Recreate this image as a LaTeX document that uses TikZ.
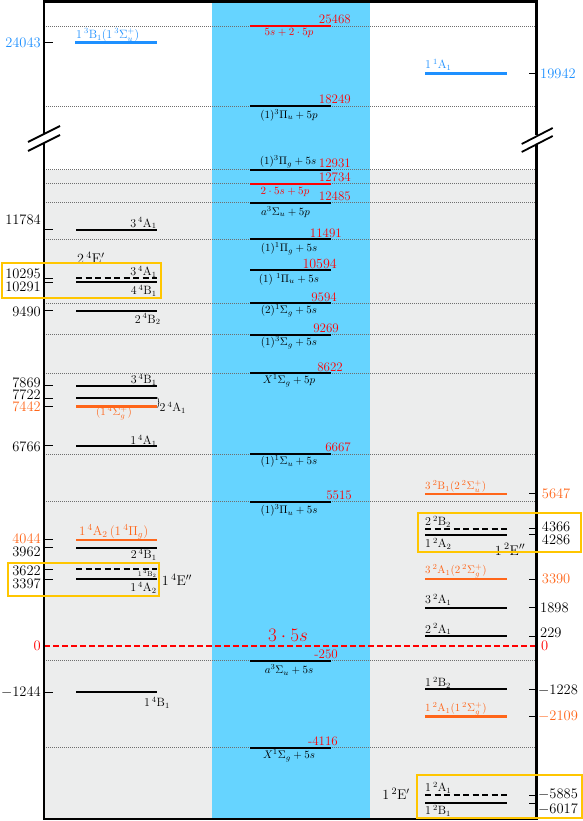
\RequirePackage{fix-cm}
\documentclass[tikz,border=0pt]{standalone}
\usepackage{amsmath}
\usetikzlibrary{decorations.pathreplacing}
\definecolor{bandblue}{RGB}{102,212,255}
\definecolor{lightgrey}{RGB}{236,237,237}
\definecolor{stblue}{RGB}{30,144,255}
\definecolor{storange}{RGB}{255,102,26}
\definecolor{boxyellow}{RGB}{255,198,0}
\definecolor{guidegrey}{RGB}{110,110,110}

\begin{document}
\begin{tikzpicture}[x=1pt, y=-1pt,
    lvl/.style={line width=2pt},
    dlvl/.style={line width=2pt, dash pattern=on 6pt off 3.5pt},
    guide/.style={guidegrey, line width=0.6pt, dash pattern=on 1pt off 1pt},
    tick/.style={line width=0.8pt},
    num/.style={font=\fontsize{14.5}{16}\selectfont, inner sep=0pt},
    cnum/.style={font=\fontsize{13}{14}\selectfont, text=red, inner sep=0pt, anchor=base east},
    clbl/.style={font=\fontsize{11}{12}\selectfont, inner sep=0pt},
    slbl/.style={font=\fontsize{12}{13}\selectfont, inner sep=0pt},
    plbl/.style={font=\fontsize{11}{12}\selectfont, inner sep=0pt, text=storange},
    elbl/.style={font=\fontsize{14}{15}\selectfont, inner sep=0pt},
    ebox/.style={draw=boxyellow, line width=1.8pt},
    frame/.style={line width=2.4pt}
]
\useasboundingbox (0,0) rectangle (582,821);

% backgrounds
\fill[lightgrey] (44,169.7) rectangle (536.3,819);
\fill[bandblue] (211.6,1.5) rectangle (370,819);

% dotted guides at the dimer + atom levels
\foreach \yy in {26,106,169.7,183.7,202.7,239.3,303,334.7,373,454,501.7,660.7,747.7}
  \draw[guide] (44,\yy) -- (536.3,\yy);

% zero line
\draw[red, line width=1.3pt, dash pattern=on 6pt off 3pt] (44,646) -- (536.3,646);
\node[font=\fontsize{19}{20}\selectfont, text=red, inner sep=0pt] (atoms) at (288,635) {$3\cdot 5s$};
\node[num, text=red, anchor=east] (zeroL) at (41,646) {0};
\node[num, text=red, anchor=west] (zeroR) at (541,646) {0};

% ---- middle column: dimer + atom asymptotes
\draw[lvl, red] (250,26) -- (331,26);
\node[cnum] (c25468) at (351,24) {25468};
\node[clbl, text=red] (t25468) at (289,33.3) {$5s+2\cdot 5p$};

\draw[lvl] (250,106) -- (331,106);
\node[cnum] (c18249) at (351,104) {18249};
\node[clbl] (t18249) at (289,115) {$(1)^3\Pi_u+5p$};

\draw[lvl] (250,169.7) -- (331,169.7);
\node[cnum] (c12931) at (351,167.7) {12931};
\node[clbl] (t12931) at (288,161.7) {$(1)^3\Pi_g+5s$};

\draw[lvl, red] (250,183.7) -- (331,183.7);
\node[cnum] (c12734) at (351,181.7) {12734};
\node[clbl, text=red] (t12734) at (285,191.7) {$2\cdot 5s+5p$};

\draw[lvl] (250,202.7) -- (331,202.7);
\node[cnum] (c12485) at (351,200.7) {12485};
\node[clbl] (t12485) at (285.5,211.7) {$a^3\Sigma_u+5p$};

\draw[lvl] (250,239.3) -- (331,239.3);
\node[cnum] (c11491) at (342,237.3) {11491};
\node[clbl] (t11491) at (289,249) {$(1)^1\Pi_g+5s$};

\draw[lvl] (250,270) -- (331,270);
\node[cnum, font=\fontsize{14}{15}\selectfont] (c10594) at (337,268) {10594};
\node[clbl] (t10594) at (289,279) {$(1)\;{}^1\Pi_u+5s$};

\draw[lvl] (250,303) -- (331,303);
\node[cnum] (c9594) at (337,301) {9594};
\node[clbl] (t9594) at (289,311) {$(2)^1\Sigma_g+5s$};

\draw[lvl] (250,334.7) -- (331,334.7);
\node[cnum] (c9269) at (339,332.7) {9269};
\node[clbl] (t9269) at (289,342.7) {$(1)^3\Sigma_g+5s$};

\draw[lvl] (250,373) -- (331,373);
\node[cnum] (c8622) at (343,371) {8622};
\node[clbl] (t8622) at (289,381) {$X^1\Sigma_g+5p$};

\draw[lvl] (250,454) -- (331,454);
\node[cnum] (c6667) at (351,451.5) {6667};
\node[clbl] (t6667) at (289,461.7) {$(1)^1\Sigma_u+5s$};

\draw[lvl] (250,501.7) -- (331,501.7);
\node[cnum] (c5515) at (352,499.2) {5515};
\node[clbl] (t5515) at (289,510.7) {$(1)^3\Pi_u+5s$};

\draw[lvl] (250,660.7) -- (331,660.7);
\node[cnum] (cm250) at (338,658.5) {-250};
\node[clbl] (tm250) at (289,670) {$a^3\Sigma_u+5s$};

\draw[lvl] (250,747.7) -- (331,747.7);
\node[cnum] (cm4116) at (338,745.5) {-4116};
\node[clbl] (tm4116) at (289,755.7) {$X^1\Sigma_g+5s$};

% ---- left column: quartets
\draw[stblue, line width=2.8pt] (75,42.3) -- (156.7,42.3);
\node[slbl, text=stblue, anchor=west] (l24043) at (76,35) {$1\,{}^3\mathrm{B}_1(1\,{}^3\Sigma_u^+)$};
\node[num, text=stblue, anchor=east] (n24043) at (41,43) {24043};
\draw[tick] (44,42.3) -- (53,42.3);

\draw[lvl] (76,229.7) -- (156.7,229.7);
\node[slbl, anchor=east] (l11784) at (156.7,223.3) {$3\,{}^4\mathrm{A}_1$};
\node[num, anchor=east] (n11784) at (41,220) {11784};
\draw[tick] (44,229.7) -- (53,229.7);

\node[elbl, anchor=west] (e24) at (77,258.3) {$2\,{}^4\mathrm{E}'$};
\draw[dlvl] (76,278.3) -- (156.7,278.3);
\node[slbl, anchor=east] (l10295) at (156.7,271.7) {$3\,{}^4\mathrm{A}_1$};
\node[num, anchor=east] (n10295) at (41,274) {10295};
\draw[tick] (44,278.3) -- (53,278.3);
\draw[lvl] (76,282.3) -- (156.7,282.3);
\node[slbl, anchor=east] (l10291) at (156.7,290.7) {$4\,{}^4\mathrm{B}_1$};
\node[num, anchor=east] (n10291) at (41,287.3) {10291};
\draw[tick] (44,282.3) -- (53,282.3);

\draw[lvl] (76,310.7) -- (156.7,310.7);
\node[slbl, anchor=east] (l9490) at (160.7,319.3) {$2\,{}^4\mathrm{B}_2$};
\node[num, anchor=east] (n9490) at (41,311.7) {9490};
\draw[tick] (44,310.7) -- (53,310.7);

\draw[lvl] (76,385.7) -- (156.7,385.7);
\node[slbl, anchor=east] (l7869) at (156.7,380) {$3\,{}^4\mathrm{B}_1$};
\node[num, anchor=east] (n7869) at (41,382.7) {7869};
\draw[tick] (44,385.7) -- (53,385.7);

\draw[lvl] (76,398.3) -- (156.7,398.3);
\node[num, anchor=east] (n7722) at (41,394.3) {7722};
\draw[tick] (44,398.3) -- (53,398.3);

\draw[storange, line width=2.4pt] (76,406.3) -- (156.7,406.3);
\node[plbl] (l7442) at (114,413.3) {$(1\,{}^4\Sigma_g^+)$};
\node[num, text=storange, anchor=east] (n7442) at (41,406.7) {7442};
\draw[tick] (44,406.3) -- (53,406.3);
\draw[decorate, decoration={brace, amplitude=1.5pt}, line width=0.5pt] (157.5,397.5) -- (157.5,407.5);
\node[slbl, anchor=west] (l24A1) at (159.5,408) {$2\,{}^4\mathrm{A}_1$};

\draw[lvl] (76,445.7) -- (156.7,445.7);
\node[slbl, anchor=east] (l6766) at (156.7,440.7) {$1\,{}^4\mathrm{A}_1$};
\node[num, anchor=east] (n6766) at (41,446.7) {6766};
\draw[tick] (44,445.7) -- (53,445.7);

\draw[storange, line width=2.4pt] (76,539.7) -- (156.7,539.7);
\node[slbl, text=storange, anchor=west, font=\fontsize{13}{14}\selectfont] (l4044) at (79,531.7) {$1\,{}^4\mathrm{A}_2\,(1\,{}^4\Pi_g)$};
\node[num, text=storange, anchor=east] (n4044) at (41,538.3) {4044};
\draw[tick] (44,539.7) -- (53,539.7);

\draw[lvl] (76,547.7) -- (156.7,547.7);
\node[slbl, anchor=east] (l3962) at (156.7,555) {$2\,{}^4\mathrm{B}_1$};
\node[num, anchor=east] (n3962) at (41,551.7) {3962};
\draw[tick] (44,547.7) -- (53,547.7);

\draw[dlvl] (76,569) -- (156.7,569);
\node[font=\fontsize{7}{8}\selectfont, inner sep=0pt, anchor=east] (l3622) at (156.7,574) {$1\,{}^4\mathrm{B}_2$};
\node[num, anchor=east] (n3622) at (41,570.7) {3622};
\draw[tick] (44,569) -- (53,569);
\draw[lvl] (76,579.3) -- (156.7,579.3);
\node[slbl, anchor=east] (l3397) at (156.7,587.7) {$1\,{}^4\mathrm{A}_2$};
\node[num, anchor=east] (n3397) at (41,583.3) {3397};
\draw[tick] (44,579.3) -- (53,579.3);
\node[elbl, anchor=west] (e14) at (161.7,580) {$1\,{}^4\mathrm{E}''$};

\draw[lvl] (76,692.3) -- (156.7,692.3);
\node[slbl, anchor=east] (lm1244) at (170,702.7) {$1\,{}^4\mathrm{B}_1$};
\node[num, anchor=east] (nm1244) at (41,692.7) {$-1244$};
\draw[tick] (44,692.3) -- (53,692.3);

% ---- right column: doublets
\draw[stblue, line width=2.8pt] (425,73.3) -- (506.5,73.3);
\node[slbl, text=stblue, anchor=west] (r19942) at (425,65) {$1\,{}^1\mathrm{A}_1$};
\node[num, text=stblue, anchor=west] (m19942) at (540,74) {19942};
\draw[tick] (529,73.3) -- (536.3,73.3);

\draw[storange, line width=2.4pt] (425,493.7) -- (506.5,493.7);
\node[plbl, anchor=west] (r5647) at (425,486.7) {$3\,{}^2\mathrm{B}_1(2\,{}^2\Sigma_u^+)$};
\node[num, text=storange, anchor=west] (m5647) at (541.7,493.3) {5647};
\draw[tick] (529,493.7) -- (536.3,493.7);

\draw[dlvl] (425,528.7) -- (506.5,528.7);
\node[slbl, anchor=west] (r4366) at (425,521.7) {$2\,{}^2\mathrm{B}_2$};
\node[num, anchor=west] (m4366) at (541.7,526.7) {4366};
\draw[tick] (529,528.7) -- (536.3,528.7);
\draw[lvl] (425,534.7) -- (506.5,534.7);
\node[slbl, anchor=west] (r4286) at (425,544) {$1\,{}^2\mathrm{A}_2$};
\node[num, anchor=west] (m4286) at (541.7,539.3) {4286};
\draw[tick] (529,534.7) -- (536.3,534.7);

\draw[storange, line width=2.4pt] (425,579) -- (506.5,579);
\node[plbl, anchor=west] (r3390) at (425,571) {$3\,{}^2\mathrm{A}_1(2\,{}^2\Sigma_g^+)$};
\node[num, text=storange, anchor=west] (m3390) at (541.7,579.3) {3390};
\draw[tick] (529,579) -- (536.3,579);

\draw[lvl] (425,607.7) -- (506.5,607.7);
\node[slbl, anchor=west] (r1898) at (425,600) {$3\,{}^2\mathrm{A}_1$};
\node[num, anchor=west] (m1898) at (540,607.7) {1898};
\draw[tick] (529,607.7) -- (536.3,607.7);

\draw[lvl] (425,636.3) -- (506.5,636.3);
\node[slbl, anchor=west] (r229) at (425,629.3) {$2\,{}^2\mathrm{A}_1$};
\node[num, anchor=west] (m229) at (540,633.3) {229};
\draw[tick] (529,636.3) -- (536.3,636.3);

\draw[lvl] (425,689.3) -- (506.5,689.3);
\node[slbl, anchor=west] (rm1228) at (425,682.7) {$1\,{}^2\mathrm{B}_2$};
\node[num, anchor=west] (mm1228) at (538,690) {$-1228$};
\draw[tick] (529,689.3) -- (536.3,689.3);

\draw[storange, line width=2.4pt] (425,716.3) -- (506.5,716.3);
\node[plbl, anchor=west] (rm2109) at (425,709) {$1\,{}^2\mathrm{A}_1(1\,{}^2\Sigma_g^+)$};
\node[num, text=storange, anchor=west] (mm2109) at (538,716) {$-2109$};
\draw[tick] (529,716.3) -- (536.3,716.3);

\draw[dlvl] (425,795.3) -- (506.5,795.3);
\node[slbl, anchor=west] (rm5885) at (425,787.7) {$1\,{}^2\mathrm{A}_1$};
\node[num, anchor=west] (mm5885) at (538,794) {$-5885$};
\draw[tick] (529,795.3) -- (536.3,795.3);
\draw[lvl] (425,803.3) -- (506.5,803.3);
\node[slbl, anchor=west] (rm6017) at (425,810.7) {$1\,{}^2\mathrm{B}_1$};
\node[num, anchor=west] (mm6017) at (538,809.3) {$-6017$};
\draw[tick] (529,803.3) -- (536.3,803.3);
\node[elbl] (e12p) at (396,794) {$1\,{}^2\mathrm{E}'$};
\node[elbl] (e12pp) at (510,549.3) {$1\,{}^2\mathrm{E}''$};

% frame with axis breaks
\draw[frame] (44,134.5) -- (44,1.5) -- (536.3,1.5) -- (536.3,135.5);
\draw[frame] (44,143) -- (44,819) -- (536.3,819) -- (536.3,144);
\draw[line width=1.8pt] (28,142) -- (60,126) (28,151) -- (60,135);
\draw[line width=1.8pt] (521.7,144) -- (552.7,128) (521.7,152) -- (552.7,136);

% degenerate pairs
\draw[ebox] (1.7,263.3) rectangle (161,298);
\draw[ebox] (7.7,563.3) rectangle (159.3,596);
\draw[ebox] (418.3,512.7) rectangle (581,551.7);
\draw[ebox] (416.7,775) rectangle (581.7,817.7);
\end{tikzpicture}
\end{document}
